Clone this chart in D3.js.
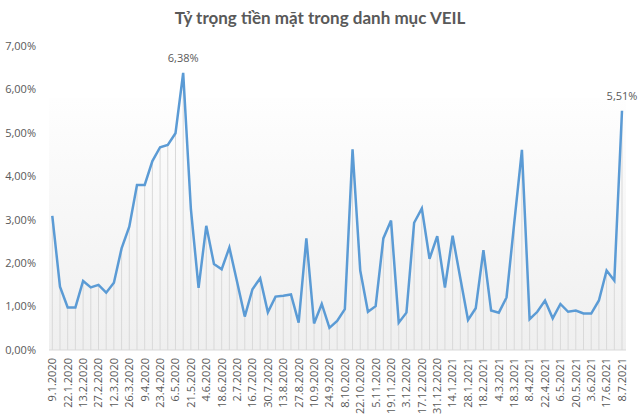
<!DOCTYPE html>
<html>
<head>
<meta charset="utf-8">
<script src="https://cdn.jsdelivr.net/npm/d3@7"></script>
<style>
  body { margin: 0; background: #fff; }
  svg text { font-family: "Open Sans", sans-serif; fill: #595959; }
</style>
</head>
<body>
<div id="chart"></div>
<script>
// weekly dates, every second one is labelled on the axis
const dates = [
  '9.1.2020', '16.1.2020', '22.1.2020', '6.2.2020', '13.2.2020', '20.2.2020', '27.2.2020', '5.3.2020',
  '12.3.2020', '19.3.2020', '26.3.2020', '2.4.2020', '9.4.2020', '16.4.2020', '23.4.2020', '29.4.2020',
  '6.5.2020', '14.5.2020', '21.5.2020', '28.5.2020', '4.6.2020', '11.6.2020', '18.6.2020', '25.6.2020',
  '2.7.2020', '9.7.2020', '16.7.2020', '23.7.2020', '30.7.2020', '6.8.2020', '13.8.2020', '20.8.2020',
  '27.8.2020', '3.9.2020', '10.9.2020', '17.9.2020', '24.9.2020', '1.10.2020', '8.10.2020', '15.10.2020',
  '22.10.2020', '29.10.2020', '5.11.2020', '12.11.2020', '19.11.2020', '26.11.2020', '3.12.2020', '10.12.2020',
  '17.12.2020', '24.12.2020', '31.12.2020', '7.1.2021', '14.1.2021', '21.1.2021', '28.1.2021', '4.2.2021',
  '18.2.2021', '25.2.2021', '4.3.2021', '11.3.2021', '18.3.2021', '25.3.2021', '8.4.2021', '15.4.2021',
  '22.4.2021', '29.4.2021', '6.5.2021', '13.5.2021', '20.5.2021', '27.5.2021', '3.6.2021', '10.6.2021',
  '17.6.2021', '24.6.2021', '8.7.2021'
]
// cash weight, % of portfolio
const cashPct = [
  3.09, 1.46, 0.98, 0.98, 1.59, 1.44, 1.50, 1.32,
  1.55, 2.34, 2.84, 3.80, 3.80, 4.35, 4.67, 4.72,
  4.99, 6.38, 3.25, 1.43, 2.86, 1.98, 1.86, 2.36,
  1.57, 0.77, 1.40, 1.65, 0.87, 1.23, 1.25, 1.28,
  0.63, 2.57, 0.61, 1.06, 0.51, 0.67, 0.94, 4.62,
  1.83, 0.88, 1.01, 2.57, 2.98, 0.63, 0.86, 2.93,
  3.26, 2.10, 2.62, 1.44, 2.63, 1.65, 0.69, 0.96,
  2.30, 0.91, 0.86, 1.21, 2.92, 4.61, 0.71, 0.88,
  1.14, 0.73, 1.06, 0.88, 0.91, 0.84, 0.84, 1.14,
  1.83, 1.60, 5.51
]
const yTicks = [0, 1, 2, 3, 4, 5, 6, 7]
const labelledDates = ['14.5.2020', '8.7.2021']

const W = 640, H = 420
const vn = d3.formatLocale({ decimal: ',', thousands: '.', grouping: [3], currency: ['', ''] })
const pct = v => vn.format('.2f')(v) + '%'

const svg = d3.select('#chart').append('svg')
  .attr('width', W).attr('height', H)

const x = d3.scalePoint().domain(dates).range([52.3, 622])
const y = d3.scaleLinear().domain([0, 7]).range([350, 46])

// plot background, light grey fade toward the bottom
const grad = svg.append('defs').append('linearGradient')
  .attr('id', 'bg').attr('x1', 0).attr('y1', 0).attr('x2', 0).attr('y2', 1)
grad.append('stop').attr('offset', '0%').attr('stop-color', '#fefefe')
grad.append('stop').attr('offset', '100%').attr('stop-color', '#efefef')

svg.append('rect')
  .attr('x', 49).attr('y', y(5.8))
  .attr('width', 577).attr('height', y(0) - y(5.8))
  .attr('fill', 'url(#bg)')

svg.append('text')
  .attr('x', 320).attr('y', 24)
  .attr('text-anchor', 'middle')
  .style('font-family', 'Lato, sans-serif')
  .style('font-size', '17px').style('font-weight', 'bold')
  .text('Tỷ trọng tiền mặt trong danh mục VEIL')

// y axis: labels only
svg.append('g').selectAll('text')
  .data(yTicks).enter().append('text')
  .attr('x', 36).attr('y', d => y(d))
  .attr('dy', '0.35em')
  .attr('text-anchor', 'end')
  .style('font-size', '11px')
  .text(d => pct(d))

// drop lines under every point
svg.append('g').selectAll('line')
  .data(cashPct).enter().append('line')
  .attr('x1', (d, i) => x(dates[i])).attr('x2', (d, i) => x(dates[i]))
  .attr('y1', d => y(d)).attr('y2', y(0))
  .style('stroke', '#d9d9d9').style('stroke-width', 1)

// x axis line
svg.append('line')
  .attr('x1', 49).attr('x2', 626).attr('y1', y(0)).attr('y2', y(0))
  .style('stroke', '#d9d9d9').style('stroke-width', 1)

const line = d3.line()
  .x((d, i) => x(dates[i]))
  .y(d => y(d))

svg.append('path')
  .datum(cashPct)
  .attr('d', line)
  .style('fill', 'none')
  .style('stroke', '#5b9bd5')
  .style('stroke-width', 2.5)
  .style('stroke-linejoin', 'miter')

// x labels, every second date, rotated
svg.append('g').selectAll('text')
  .data(dates.filter((d, i) => i % 2 === 0)).enter().append('text')
  .attr('transform', d => `translate(${x(d)},358) rotate(-90)`)
  .attr('dy', '0.35em')
  .attr('text-anchor', 'end')
  .style('font-size', '11px')
  .text(d => d)

// value labels on the two peaks
svg.append('g').selectAll('text')
  .data(labelledDates.map(d => dates.indexOf(d))).enter().append('text')
  .attr('x', i => x(dates[i]))
  .attr('y', i => y(cashPct[i]) - 11)
  .attr('text-anchor', 'middle')
  .style('font-size', '11px')
  .text(i => pct(cashPct[i]))
</script>
</body>
</html>
